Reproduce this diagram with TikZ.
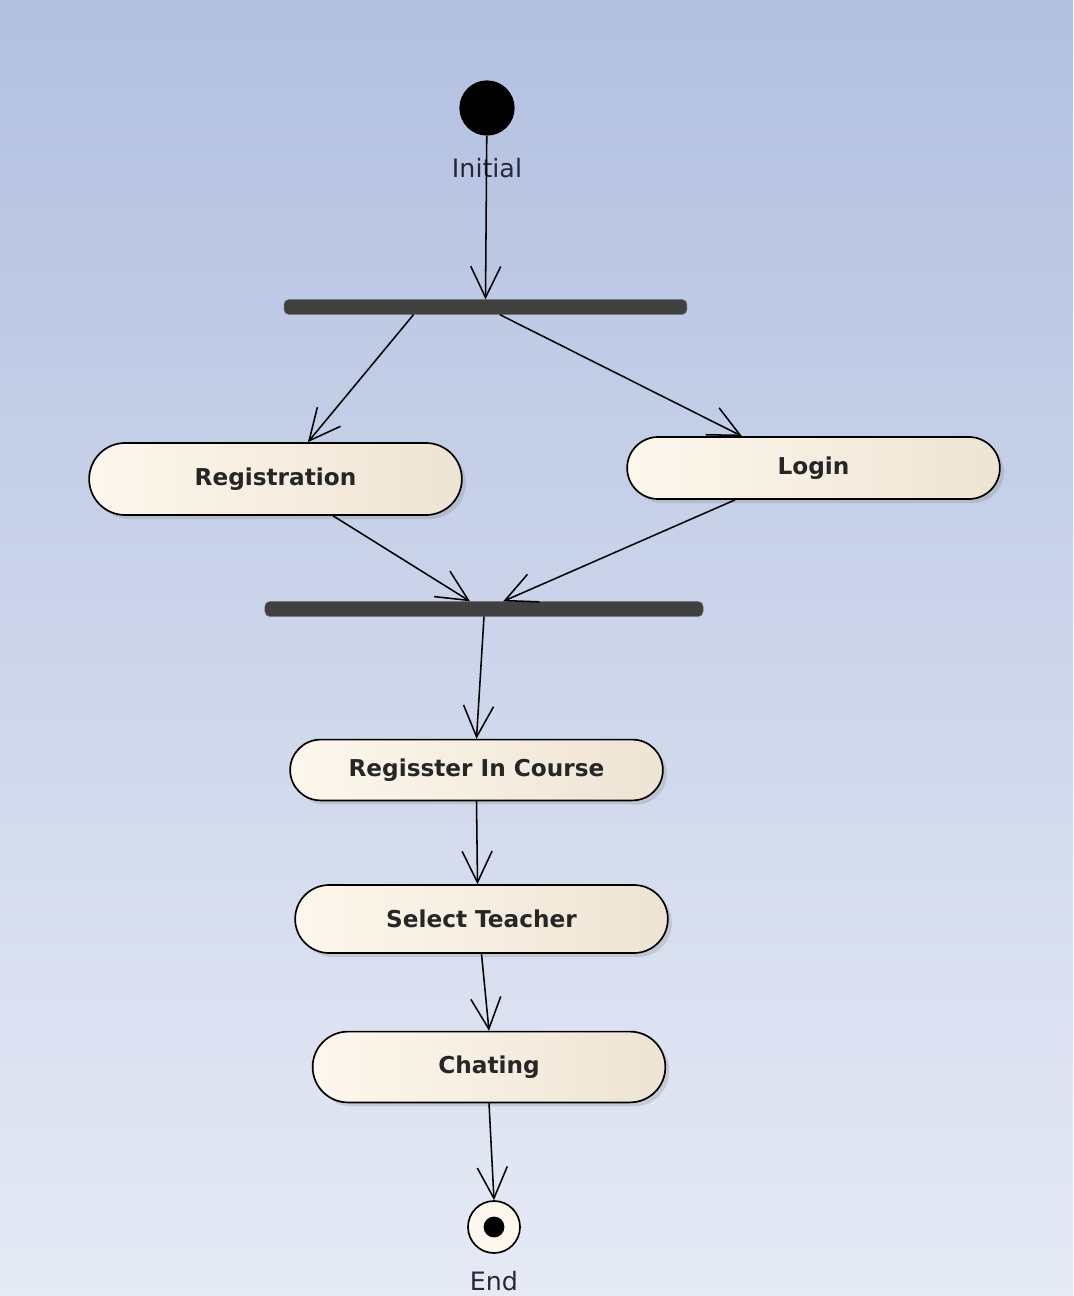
\documentclass[tikz,border=0pt]{standalone}
\usepackage{fontspec}
\setmainfont{DejaVu Sans}
\usetikzlibrary{arrows.meta,shapes.misc,shadows}
\definecolor{bgtop}{RGB}{178,192,224}
\definecolor{bgbottom}{RGB}{230,234,245}
\definecolor{actleft}{RGB}{253,247,237}
\definecolor{actright}{RGB}{238,228,212}
\definecolor{bardark}{RGB}{64,64,64}
\definecolor{labelgrey}{RGB}{40,40,56}
\begin{document}
\begin{tikzpicture}[x=0.025cm,y=-0.025cm]
% Configurable parameters
\def\actw{9.55cm}
\def\barh{0.37cm}

% Styles
\tikzstyle{activity}=[rounded rectangle, draw=black, line width=1.2pt,
  left color=actleft, right color=actright, minimum width=\actw,
  font=\fontsize{16.5}{19}\selectfont\bfseries, text=black!85,
  drop shadow={shadow xshift=0.1cm, shadow yshift=-0.1cm, opacity=0.25}]
\tikzstyle{syncbar}=[rectangle, rounded corners=0.12cm, fill=bardark,
  draw=bardark!80, minimum height=\barh, inner sep=0pt]
\tikzstyle{flow}=[line width=1.1pt, arrows={-Straight Barb[length=7.8mm,width=7.5mm,line width=1.1pt]}]
\tikzstyle{statelabel}=[font=\fontsize{18}{21}\selectfont, text=labelgrey]

% Background
\shade[top color=bgtop, bottom color=bgbottom] (0,0) rectangle (1073,1296);
\useasboundingbox (0,0) rectangle (1073,1296);

% Initial and final states
\node[circle, fill=black, minimum size=1.38cm, inner sep=0pt] (initial) at (487,108) {};
\node[statelabel] (initLabel) at (487,168) {Initial};
\node[circle, draw=black, line width=1.2pt, fill=actleft, minimum size=1.3cm, inner sep=0pt,
  path picture={\fill[black] (path picture bounding box.center) circle (0.26cm);}] (final) at (494,1227) {};
\node[statelabel] (endLabel) at (494,1281) {End};

% Fork and join bars
\node[syncbar, minimum width=10.07cm] (fork) at (485.5,307) {};
\node[syncbar, minimum width=10.95cm] (join) at (484,609) {};

% Activities
\node[activity, minimum height=1.8cm] (registration) at (275.5,479) {Registration};
\node[activity, minimum height=1.55cm] (login) at (813.5,468) {Login};
\node[activity, minimum height=1.52cm] (course) at (476.5,770) {Regisster In Course};
\node[activity, minimum height=1.7cm] (teacher) at (481.5,919) {Select Teacher};
\node[activity, minimum height=1.77cm, minimum width=9.05cm] (chat) at (489,1067) {Chating};

% Control flows
\draw[flow] (initial) -- (fork.north);
\draw[flow] ([xshift=-1.8cm]fork.south) -- ([xshift=0.81cm]registration.north);
\draw[flow] ([xshift=0.36cm]fork.south) -- ([xshift=-1.79cm]login.north);
\draw[flow] ([xshift=1.44cm]registration.south) -- ([xshift=-0.35cm]join.north);
\draw[flow] ([xshift=-1.96cm]login.south) -- ([xshift=0.48cm]join.north);
\draw[flow] (join.south) -- (course.north);
\draw[flow] (course.south) -- ([xshift=-0.1cm]teacher.north);
\draw[flow] (teacher.south) -- (chat.north);
\draw[flow] (chat.south) -- (final.north);
\end{tikzpicture}
\end{document}
